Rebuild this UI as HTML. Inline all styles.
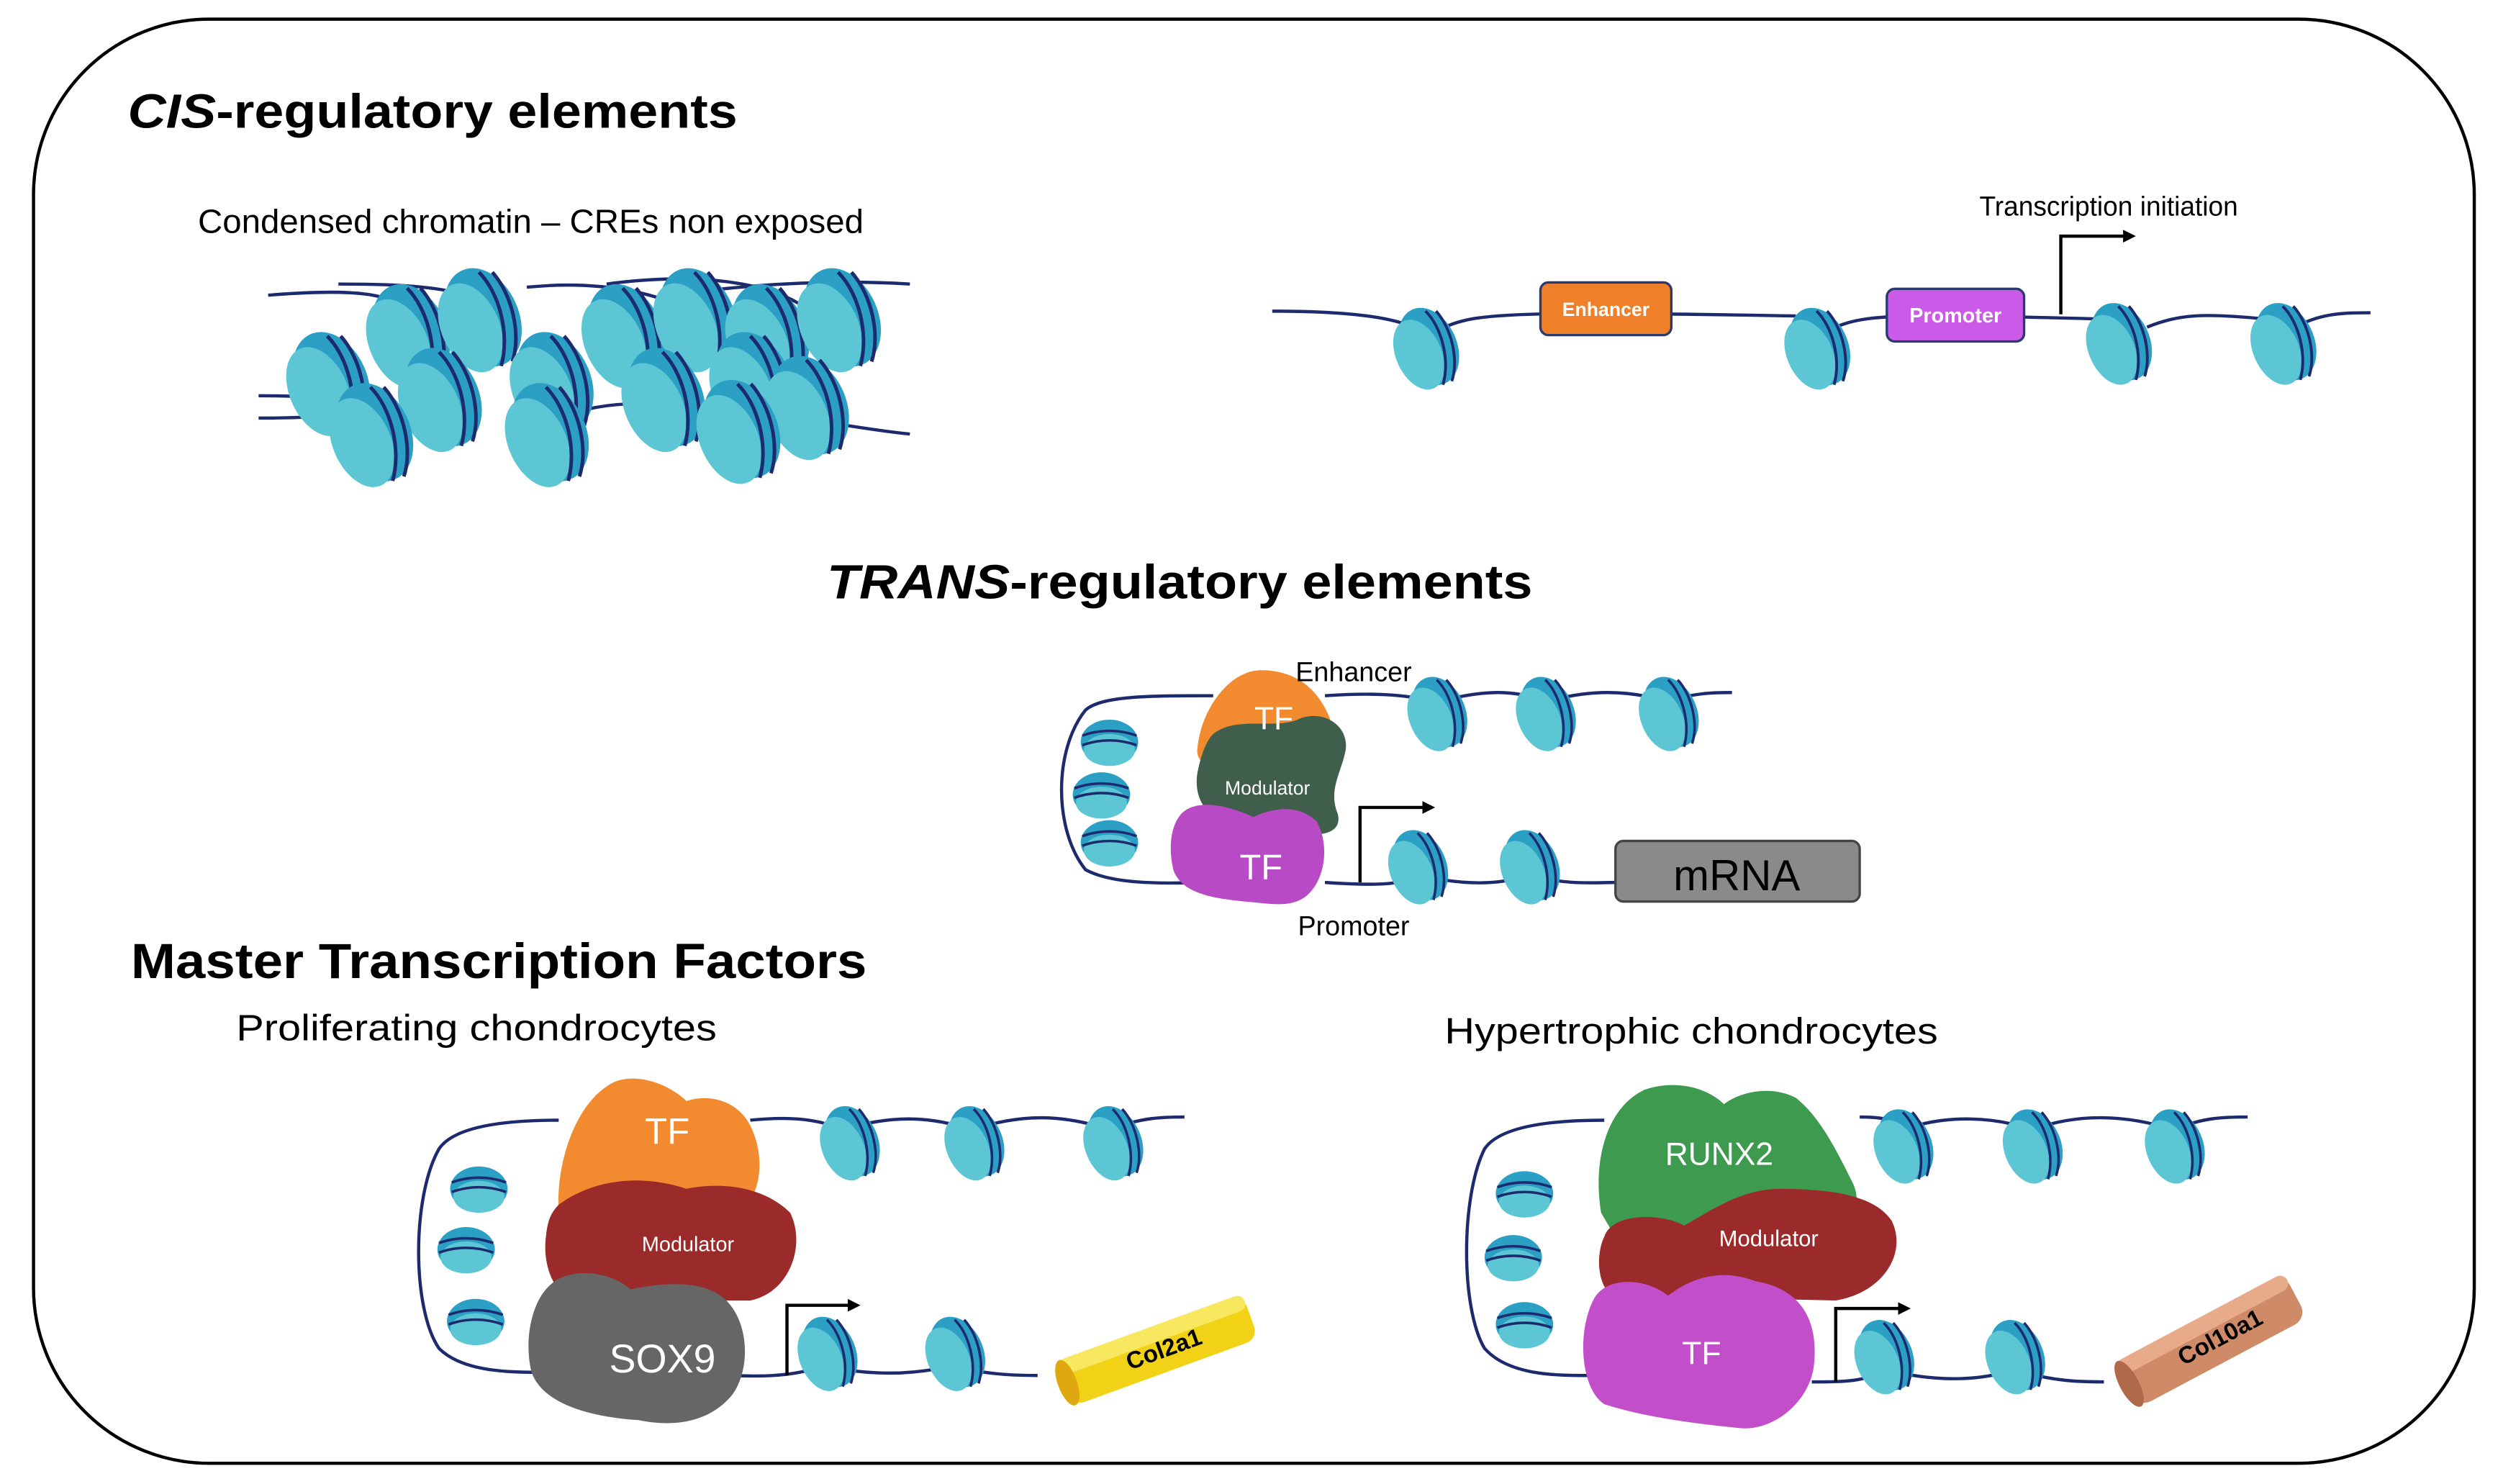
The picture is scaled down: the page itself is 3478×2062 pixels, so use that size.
<!DOCTYPE html>
<html><head><meta charset="utf-8"><style>
html,body{margin:0;padding:0;background:#fff;}
svg{display:block;}
text{font-family:"Liberation Sans",Arial,sans-serif;}
</style></head><body>
<svg width="3478" height="2062" viewBox="0 0 1568 930" preserveAspectRatio="none" xmlns="http://www.w3.org/2000/svg">
<defs>
<g id="nuc">
<ellipse cx="2" cy="0" rx="16" ry="23" transform="rotate(-24)" fill="#2b9fc4"/>
<ellipse cx="-5" cy="2" rx="13" ry="21" transform="rotate(-24)" fill="#5cc6d4"/>
<path d="M0,-21 C9,-12 14,6 10,21" stroke="#1d2a6e" stroke-width="1.6" fill="none"/>
<path d="M6,-21 C15,-11 19,7 15,19" stroke="#1d2a6e" stroke-width="1.6" fill="none"/>
</g>
<g id="nucV">
<ellipse cx="0" cy="0" rx="18" ry="14" fill="#2b9fc4"/>
<ellipse cx="0" cy="5" rx="16" ry="10" fill="#5cc6d4"/>
<path d="M-17,-4 C-6,-8 6,-8 17,-4" stroke="#1d2a6e" stroke-width="1.6" fill="none"/>
<path d="M-17,2 C-6,-2 6,-2 17,2" stroke="#1d2a6e" stroke-width="1.6" fill="none"/>
</g>
<marker id="ah" markerWidth="8" markerHeight="8" refX="6" refY="4" orient="auto" markerUnits="userSpaceOnUse"><path d="M0,0 L8,4 L0,8 z" fill="#000"/></marker>
</defs>

<rect x="21" y="12" width="1529" height="905" rx="110" ry="110" fill="#fff" stroke="#000" stroke-width="2"/>

<text x="80" y="80" font-size="30" font-weight="bold" textLength="382" lengthAdjust="spacingAndGlyphs"><tspan font-style="italic">CIS</tspan>-regulatory elements</text>
<text x="124" y="146" font-size="21" textLength="417" lengthAdjust="spacingAndGlyphs">Condensed chromatin – CREs non exposed</text>

<!-- condensed chromatin -->
<g>
<path d="M168,185 C230,180 250,185 260,200 M212,178 C260,178 300,180 320,200 M330,180 C380,175 420,185 440,200 M380,178 C440,170 480,178 500,190 M420,185 C470,178 520,175 570,178" stroke="#1d2a6e" stroke-width="2" fill="none"/>
<path d="M162,262 C200,262 230,260 240,250 M162,248 C220,248 260,255 280,270 M350,262 C380,250 420,250 450,262 M490,260 C520,265 550,270 570,272" stroke="#1d2a6e" stroke-width="2" fill="none"/>
<use href="#nuc" transform="translate(255,210) scale(1.4)"/><use href="#nuc" transform="translate(300,200) scale(1.4)"/>
<use href="#nuc" transform="translate(390,210) scale(1.4)"/><use href="#nuc" transform="translate(435,200) scale(1.4)"/>
<use href="#nuc" transform="translate(480,210) scale(1.4)"/><use href="#nuc" transform="translate(525,200) scale(1.4)"/>
<use href="#nuc" transform="translate(205,240) scale(1.4)"/><use href="#nuc" transform="translate(275,250) scale(1.4)"/>
<use href="#nuc" transform="translate(345,240) scale(1.4)"/><use href="#nuc" transform="translate(415,250) scale(1.4)"/>
<use href="#nuc" transform="translate(470,240) scale(1.4)"/><use href="#nuc" transform="translate(505,255) scale(1.4)"/>
<use href="#nuc" transform="translate(232,272) scale(1.4)"/><use href="#nuc" transform="translate(342,272) scale(1.4)"/>
<use href="#nuc" transform="translate(462,270) scale(1.4)"/>
</g>

<!-- exposed chromatin -->
<path d="M797,195 C840,195 870,198 885,205 M905,205 C925,196 950,195 1125,198 M1150,205 C1170,196 1200,197 1320,200 M1345,205 C1365,197 1380,196 1420,200 M1440,204 C1455,196 1470,196 1485,196" stroke="#1d2a6e" stroke-width="2" fill="none"/>
<use href="#nuc" transform="translate(893,218) scale(1.1)"/><use href="#nuc" transform="translate(1138,218) scale(1.1)"/>
<use href="#nuc" transform="translate(1327,215) scale(1.1)"/><use href="#nuc" transform="translate(1430,215) scale(1.1)"/>
<rect x="965" y="177" width="82" height="33" rx="5" fill="#f07f2a" stroke="#2b3a6e" stroke-width="1.5"/>
<text x="1006" y="198" font-size="12" fill="#fff" font-weight="bold" text-anchor="middle">Enhancer</text>
<rect x="1182" y="181" width="86" height="33" rx="5" fill="#cc5ae8" stroke="#2b3a6e" stroke-width="1.5"/>
<text x="1225" y="202" font-size="13" fill="#fff" font-weight="bold" text-anchor="middle">Promoter</text>
<path d="M1291,197 L1291,148 L1336,148" stroke="#000" stroke-width="2" fill="none" marker-end="url(#ah)"/>
<text x="1240" y="135" font-size="17" textLength="162" lengthAdjust="spacingAndGlyphs">Transcription initiation</text>

<text x="518" y="375" font-size="30" font-weight="bold" textLength="442" lengthAdjust="spacingAndGlyphs"><tspan font-style="italic">TRANS</tspan>-regulatory elements</text>

<!-- trans diagram -->
<path d="M760,436 C720,436 690,436 680,445 C660,470 660,520 680,545 C700,556 740,553 760,553 M830,436 C860,434 880,435 900,440 C930,432 950,432 968,440 C995,432 1020,432 1045,440 C1060,434 1075,434 1085,434 M830,553 C860,555 880,555 888,548 C915,555 940,555 958,548 C980,555 1000,553 1012,553" stroke="#1d2a6e" stroke-width="2" fill="none"/>
<use href="#nuc" x="900" y="447"/><use href="#nuc" x="968" y="447"/><use href="#nuc" x="1045" y="447"/>
<use href="#nucV" x="695" y="465"/><use href="#nucV" x="690" y="498"/><use href="#nucV" x="695" y="528"/>
<use href="#nuc" x="888" y="543"/><use href="#nuc" x="958" y="543"/>
<path d="M750,470 C752,445 770,420 790,420 C810,420 825,430 833,450 C838,465 830,478 815,478 L770,480 C755,480 750,478 750,470 z" fill="#f28a30"/>
<path d="M760,460 C775,448 800,458 815,450 C830,445 845,455 843,470 C840,485 832,495 838,510 C842,525 820,525 805,520 L770,515 C755,512 748,500 750,485 C752,475 755,465 760,460 z" fill="#3f5e4b"/>
<path d="M740,510 C750,500 770,505 785,512 C800,505 815,505 825,515 C833,530 830,550 820,560 C810,570 795,566 780,565 C760,563 740,560 735,545 C732,532 733,518 740,510 z" fill="#b84bc5"/>
<text x="798" y="457" font-size="20" fill="#fff" text-anchor="middle">TF</text>
<text x="794" y="498" font-size="12" fill="#fff" text-anchor="middle">Modulator</text>
<text x="790" y="551" font-size="22" fill="#fff" text-anchor="middle">TF</text>
<path d="M852,553 L852,506 L897,506" stroke="#000" stroke-width="2" fill="none" marker-end="url(#ah)"/>
<rect x="1012" y="527" width="153" height="38" rx="5" fill="#8a8a8a" stroke="#444" stroke-width="1.5"/>
<text x="1088" y="558" font-size="27" text-anchor="middle">mRNA</text>
<text x="848" y="427" font-size="17" text-anchor="middle">Enhancer</text>
<text x="848" y="586" font-size="17" text-anchor="middle">Promoter</text>

<text x="82" y="613" font-size="31" font-weight="bold" textLength="461" lengthAdjust="spacingAndGlyphs">Master Transcription Factors</text>
<text x="148" y="652" font-size="23" textLength="301" lengthAdjust="spacingAndGlyphs">Proliferating chondrocytes</text>
<text x="905" y="654" font-size="23" textLength="309" lengthAdjust="spacingAndGlyphs">Hypertrophic chondrocytes</text>

<!-- left master -->
<path d="M350,702 C320,702 285,705 275,720 C258,750 258,820 275,845 C290,860 320,860 340,860 M470,702 C490,700 510,700 528,708 C560,698 585,700 608,708 C640,698 665,698 695,708 C715,700 730,700 742,700 M460,862 C480,863 500,862 515,856 C545,862 570,862 596,856 C620,862 640,862 650,862" stroke="#1d2a6e" stroke-width="2" fill="none"/>
<use href="#nuc" x="532" y="716"/><use href="#nuc" x="610" y="716"/><use href="#nuc" x="697" y="716"/>
<use href="#nucV" x="300" y="745"/><use href="#nucV" x="292" y="783"/><use href="#nucV" x="298" y="828"/>
<use href="#nuc" x="518" y="848"/><use href="#nuc" x="598" y="848"/>
<path d="M350,760 C348,730 360,690 385,678 C400,672 420,680 430,690 C445,685 465,690 472,710 C480,730 475,755 460,760 L360,765 z" fill="#f28a30"/>
<path d="M350,755 C370,740 400,735 430,745 C455,740 480,745 495,760 C505,780 495,810 470,815 L360,815 C345,810 340,790 342,775 C343,765 345,760 350,755 z" fill="#9b2a2a"/>
<path d="M345,805 C355,795 380,795 395,808 C410,805 440,800 455,815 C470,830 470,860 458,875 C445,890 425,895 400,890 C370,888 340,880 333,860 C328,840 333,815 345,805 z" fill="#666"/>
<text x="418" y="717" font-size="23" fill="#fff" text-anchor="middle">TF</text>
<text x="431" y="784" font-size="13" fill="#fff" text-anchor="middle">Modulator</text>
<text x="415" y="860" font-size="25" fill="#fff" text-anchor="middle">SOX9</text>
<path d="M493,862 L493,818 L537,818" stroke="#000" stroke-width="2" fill="none" marker-end="url(#ah)"/>
<g transform="translate(725,846) rotate(-20)">
<rect x="-62" y="-15" width="124" height="30" rx="8" fill="#f2d216"/>
<rect x="-62" y="-15" width="124" height="10" rx="5" fill="#f8e860"/>
<ellipse cx="-60" cy="0" rx="6" ry="15" fill="#e0a810"/>
<text x="4" y="6" font-size="15" font-weight="bold" text-anchor="middle">Col2a1</text>
</g>

<!-- right master -->
<path d="M1005,702 C975,702 940,705 930,720 C915,750 915,820 930,845 C945,862 975,862 995,862 M1165,700 C1180,700 1190,702 1192,708 C1220,698 1250,700 1273,708 C1300,698 1330,698 1362,708 C1380,700 1395,700 1408,700 M1135,866 C1155,866 1170,866 1180,858 C1210,866 1240,866 1262,858 C1285,866 1305,866 1318,866" stroke="#1d2a6e" stroke-width="2" fill="none"/>
<use href="#nuc" x="1192" y="718"/><use href="#nuc" x="1273" y="718"/><use href="#nuc" x="1362" y="718"/>
<use href="#nucV" x="955" y="748"/><use href="#nucV" x="948" y="788"/><use href="#nucV" x="955" y="830"/>
<use href="#nuc" x="1180" y="850"/><use href="#nuc" x="1262" y="850"/>
<path d="M1003,760 C998,730 1005,695 1030,683 C1050,676 1070,682 1080,692 C1090,684 1110,680 1125,688 C1140,700 1150,720 1160,740 C1168,755 1160,770 1140,768 L1010,772 z" fill="#3d9a4f"/>
<path d="M1005,775 C1010,760 1040,760 1055,768 C1070,760 1090,745 1115,745 C1150,745 1175,750 1185,765 C1195,785 1180,810 1150,815 L1010,812 C1000,805 1000,785 1005,775 z" fill="#9b2a2a"/>
<path d="M998,815 C1005,800 1030,800 1045,812 C1060,800 1080,795 1100,803 C1130,808 1140,830 1136,858 C1132,880 1110,897 1090,895 C1060,892 1030,888 1005,880 C990,870 988,835 998,815 z" fill="#c24ec9"/>
<text x="1077" y="730" font-size="20" fill="#fff" text-anchor="middle">RUNX2</text>
<text x="1108" y="781" font-size="14" fill="#fff" text-anchor="middle">Modulator</text>
<text x="1066" y="855" font-size="20" fill="#fff" text-anchor="middle">TF</text>
<path d="M1150,866 L1150,820 L1195,820" stroke="#000" stroke-width="2" fill="none" marker-end="url(#ah)"/>
<g transform="translate(1385,840) rotate(-28)">
<rect x="-60" y="-16" width="120" height="32" rx="9" fill="#cf8a68"/>
<rect x="-60" y="-16" width="120" height="10" rx="5" fill="#e8ab8a"/>
<ellipse cx="-58" cy="0" rx="6" ry="16" fill="#b06a4a"/>
<text x="6" y="6" font-size="15" font-weight="bold" text-anchor="middle">Col10a1</text>
</g>
</svg>
</body></html>
